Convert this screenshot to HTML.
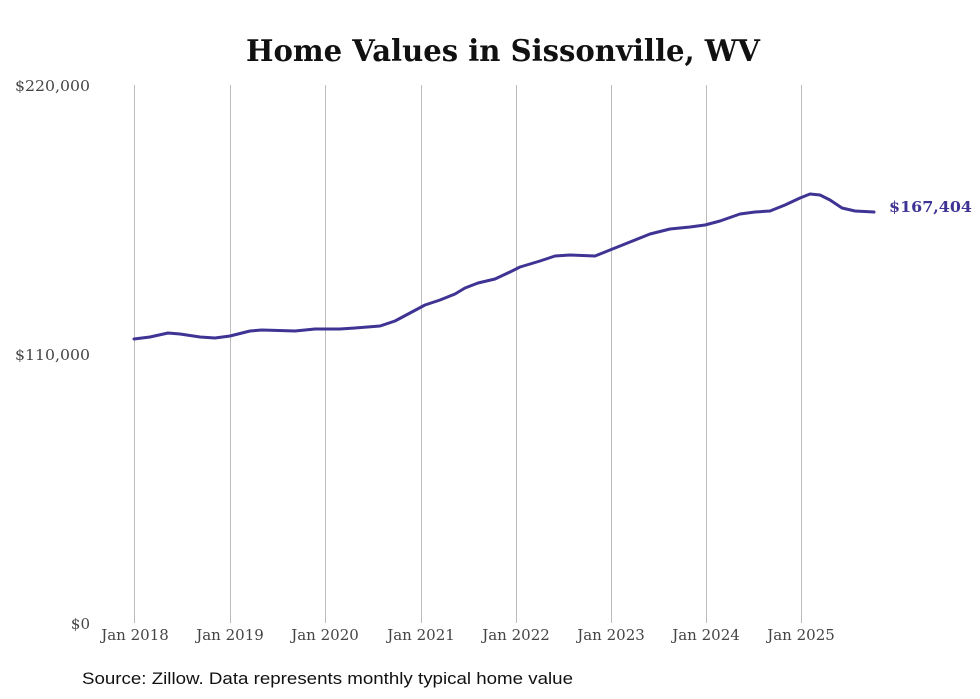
<!DOCTYPE html>
<html><head><meta charset="utf-8"><style>
html,body{margin:0;padding:0;background:#fff;}
svg{display:block}
</style></head><body>
<svg width="980" height="699" xmlns="http://www.w3.org/2000/svg">
<rect width="980" height="699" fill="#fff"/>
<text x="503" y="61" text-anchor="middle" font-family="DejaVu Serif, serif" font-weight="bold" font-size="30" textLength="514" lengthAdjust="spacingAndGlyphs" fill="#111">Home Values in Sissonville, WV</text>
<g stroke="#bdbdbd" stroke-width="1">
<line x1="134.5" y1="85" x2="134.5" y2="623"/>
<line x1="230.5" y1="85" x2="230.5" y2="623"/>
<line x1="325.5" y1="85" x2="325.5" y2="623"/>
<line x1="421.5" y1="85" x2="421.5" y2="623"/>
<line x1="516.5" y1="85" x2="516.5" y2="623"/>
<line x1="611.5" y1="85" x2="611.5" y2="623"/>
<line x1="706.5" y1="85" x2="706.5" y2="623"/>
<line x1="801.5" y1="85" x2="801.5" y2="623"/>
</g>
<g font-family="DejaVu Serif, serif" font-size="15" fill="#444">
<text x="90" y="91" text-anchor="end" textLength="75" lengthAdjust="spacingAndGlyphs">$220,000</text>
<text x="90" y="360" text-anchor="end" textLength="75" lengthAdjust="spacingAndGlyphs">$110,000</text>
<text x="90" y="629" text-anchor="end">$0</text>
<g text-anchor="middle">
<text x="135" y="640">Jan 2018</text>
<text x="230" y="640">Jan 2019</text>
<text x="325" y="640">Jan 2020</text>
<text x="421" y="640">Jan 2021</text>
<text x="516" y="640">Jan 2022</text>
<text x="611" y="640">Jan 2023</text>
<text x="706" y="640">Jan 2024</text>
<text x="801" y="640">Jan 2025</text>
</g>
</g>
<polyline fill="none" stroke="#3f3394" stroke-width="3" stroke-linejoin="round" stroke-linecap="round"
points="134,339 150,337 168,333 180,334 200,337 215,338 230,336 250,331 262,330 295,331 315,329 340,329 355,328 380,326 395,321 410,313 425,305 440,300 455,294 465,288 478,283 495,279 510,272 520,267 540,261 555,256 570,255 595,256 610,250 630,242 650,234 670,229 690,227 705,225 720,221 740,214 755,212 770,211 785,205 800,198 810,194 820,195 830,200 842,208 855,211 874,212"/>
<text x="889" y="212" font-family="DejaVu Serif, serif" font-weight="bold" font-size="15" fill="#3f3394" textLength="83" lengthAdjust="spacingAndGlyphs">$167,404</text>
<text x="82" y="684" font-family="Liberation Sans, sans-serif" font-size="17" fill="#111" textLength="491" lengthAdjust="spacingAndGlyphs">Source: Zillow. Data represents monthly typical home value</text>
</svg>
</body></html>
